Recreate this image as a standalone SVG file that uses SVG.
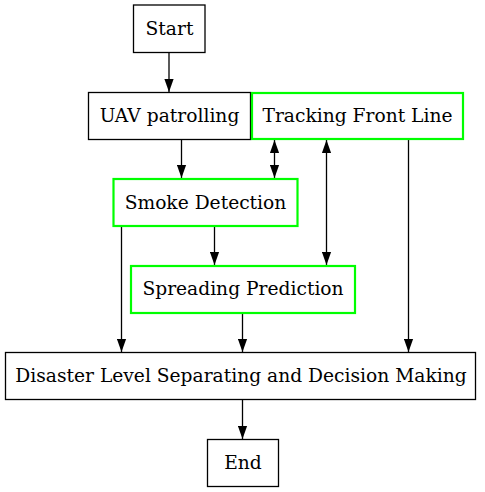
<svg xmlns="http://www.w3.org/2000/svg" width="485" height="492" viewBox="0 0 485 492">
<defs>
<style>
.n{fill:#fff;stroke:#000;stroke-width:1.3}
.g{fill:#fff;stroke:#00ff00;stroke-width:2.2}
.t{font-family:"DejaVu Serif",serif;font-size:18.67px;fill:#000;text-anchor:middle}
.e{stroke:#000;stroke-width:1.3;fill:none}
</style>
<marker id="a" markerWidth="13" markerHeight="10" refX="13" refY="5" orient="auto" markerUnits="userSpaceOnUse"><path d="M0,0.4 L13,5 L0,9.6 Z" fill="#000"/></marker>
<marker id="b" markerWidth="13" markerHeight="10" refX="0" refY="5" orient="auto" markerUnits="userSpaceOnUse"><path d="M13,0.4 L0,5 L13,9.6 Z" fill="#000"/></marker>
</defs>
<rect width="485" height="492" fill="#fff"/>
<g id="edges">
<line class="e" x1="169" y1="52" x2="169" y2="92" marker-end="url(#a)"/>
<line class="e" x1="181.5" y1="140" x2="181.5" y2="178" marker-end="url(#a)"/>
<line class="e" x1="274.5" y1="140" x2="274.5" y2="178" marker-start="url(#b)" marker-end="url(#a)"/>
<line class="e" x1="326.5" y1="140" x2="326.5" y2="265" marker-start="url(#b)" marker-end="url(#a)"/>
<line class="e" x1="408.5" y1="140" x2="408.5" y2="352" marker-end="url(#a)"/>
<line class="e" x1="214.5" y1="227" x2="214.5" y2="265" marker-end="url(#a)"/>
<line class="e" x1="121.5" y1="227" x2="121.5" y2="352" marker-end="url(#a)"/>
<line class="e" x1="242.5" y1="314" x2="242.5" y2="352" marker-end="url(#a)"/>
<line class="e" x1="242.5" y1="400" x2="242.5" y2="439" marker-end="url(#a)"/>
</g>
<g id="start"><rect class="n" x="133.5" y="5" width="71.5" height="47.5"/><text class="t" x="169.5" y="34.5">Start</text></g>
<g id="uav"><rect class="n" x="88.5" y="92.5" width="162" height="47"/><text class="t" x="169.5" y="122">UAV patrolling</text></g>
<g id="tracking"><rect class="g" x="252" y="93" width="211" height="46"/><text class="t" x="357.5" y="122">Tracking Front Line</text></g>
<g id="smoke"><rect class="g" x="113.5" y="179" width="184" height="47"/><text class="t" x="205.5" y="209">Smoke Detection</text></g>
<g id="spreading"><rect class="g" x="131" y="266" width="224" height="47"/><text class="t" x="243" y="295">Spreading Prediction</text></g>
<g id="disaster"><rect class="n" x="5.5" y="352.5" width="470" height="47"/><text class="t" x="241" y="382">Disaster Level Separating and Decision Making</text></g>
<g id="end"><rect class="n" x="207.5" y="439.5" width="71" height="47"/><text class="t" x="243" y="469">End</text></g>
</svg>
